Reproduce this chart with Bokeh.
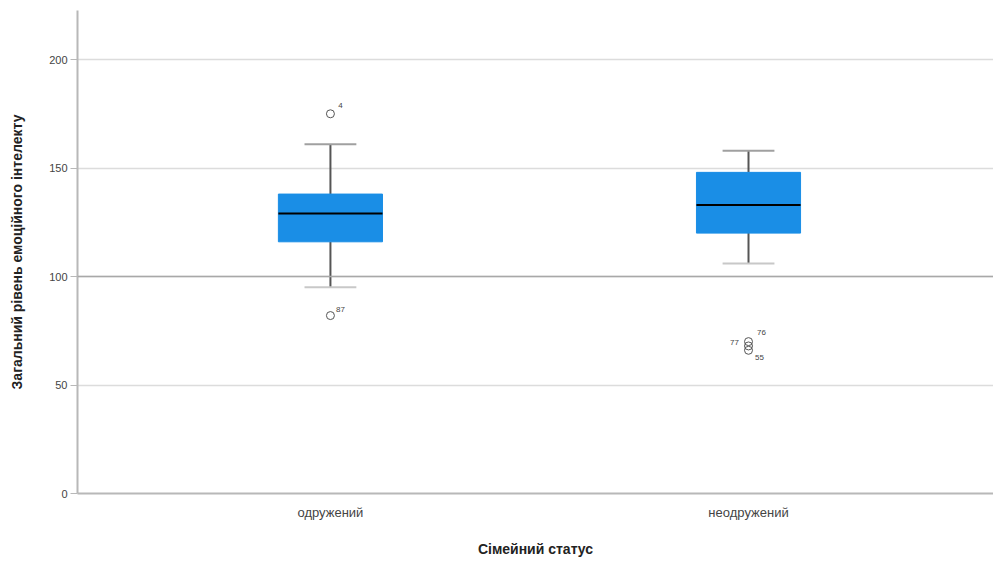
from bokeh.plotting import figure
from bokeh.models import Range1d, ColumnDataSource, Span, FixedTicker
from bokeh.embed import file_html
from bokeh.resources import INLINE

categories = ["одружений", "неодружений"]
q1 = [116, 120]
median = [129, 133]
q3 = [138, 148]
whisker_low = [95, 106]
whisker_high = [161, 158]
outlier_group = [1, 1, 2, 2, 2]
outlier_value = [175, 82, 70, 68, 66]
outlier_label = ["4", "87", "76", "77", "55"]

xs = [i + 1 for i in range(len(categories))]
p = figure(width=993, height=559, output_backend="svg", toolbar_location=None,
           x_range=Range1d(0.395, 2.586), y_range=Range1d(0, 222.6),
           min_border_left=77, min_border_top=10, min_border_bottom=0, min_border_right=0)
p.outline_line_color = None
p.background_fill_color = "white"

# grid
p.xgrid.grid_line_color = None
p.ygrid.grid_line_color = "#dcdcdc"
p.ygrid.grid_line_width = 1.5
p.add_layout(Span(location=100, dimension="width", line_color="#a8a8a8", line_width=1.5))

src = ColumnDataSource(dict(x=xs, q1=q1, q3=q3, med=median, lo=whisker_low, hi=whisker_high))
# whiskers
p.segment(x0="x", y0="q3", x1="x", y1="hi", source=src, line_color="#555555", line_width=2)
p.segment(x0="x", y0="lo", x1="x", y1="q1", source=src, line_color="#555555", line_width=2)
caps = ColumnDataSource(dict(x0=[x - 0.062 for x in xs], x1=[x + 0.062 for x in xs], lo=whisker_low, hi=whisker_high))
p.segment(x0="x0", y0="hi", x1="x1", y1="hi", source=caps, line_color="#a0a0a0", line_width=2)
p.segment(x0="x0", y0="lo", x1="x1", y1="lo", source=caps, line_color="#c8c8c8", line_width=2)
# boxes
p.vbar(x="x", width=0.249, bottom="q1", top="q3", source=src, fill_color="#1a8ee6", line_color="#1a8ee6")
p.segment(x0=[x - 0.1245 for x in xs], y0=median, x1=[x + 0.1245 for x in xs], y1=median,
          line_color="black", line_width=2)

# outliers
osrc = ColumnDataSource(dict(x=outlier_group, y=outlier_value, t=outlier_label))
p.scatter(x="x", y="y", source=osrc, size=8, marker="circle", fill_color=None,
          line_color="#555555", line_width=1)
label_dx = [10, 10, 13, -14, 11]
label_dy = [8, 6, 9, 3, -7]
for i in range(len(outlier_label)):
    p.text(x=[outlier_group[i]], y=[outlier_value[i]], text=[outlier_label[i]],
           x_offset=label_dx[i], y_offset=-label_dy[i], text_font_size="8px",
           text_color="#444444", text_align="center", text_baseline="middle")

# axes
p.xaxis.ticker = FixedTicker(ticks=xs)
p.xaxis.major_label_overrides = {x: c for x, c in zip(xs, categories)}
p.yaxis.ticker = FixedTicker(ticks=[0, 50, 100, 150, 200])
for ax in (p.xaxis[0], p.yaxis[0]):
    ax.axis_line_color = "#b8b8b8"
    ax.axis_line_width = 2
    ax.minor_tick_line_color = None
    ax.major_label_text_font = "Liberation Sans"
    ax.major_label_text_color = "#444444"
    ax.axis_label_text_font = "Liberation Sans"
    ax.axis_label_text_font_style = "bold"
    ax.axis_label_text_color = "#222222"
    ax.axis_label_text_font_size = "14px"
p.xaxis.major_tick_line_color = None
p.xaxis.major_label_text_font_size = "13px"
p.xaxis.major_label_standoff = 5
p.xaxis.axis_label = "Сімейний статус"
p.xaxis.axis_label_standoff = 18
p.yaxis.major_tick_line_color = "#b8b8b8"
p.yaxis.major_tick_out = 7
p.yaxis.major_tick_in = 0
p.yaxis.major_label_text_font_size = "11px"
p.yaxis.major_label_standoff = 3
p.yaxis.axis_label = "Загальний рівень емоційного інтелекту"
p.yaxis.axis_label_standoff = 21

open("out.html", "w").write(file_html(p, INLINE))
